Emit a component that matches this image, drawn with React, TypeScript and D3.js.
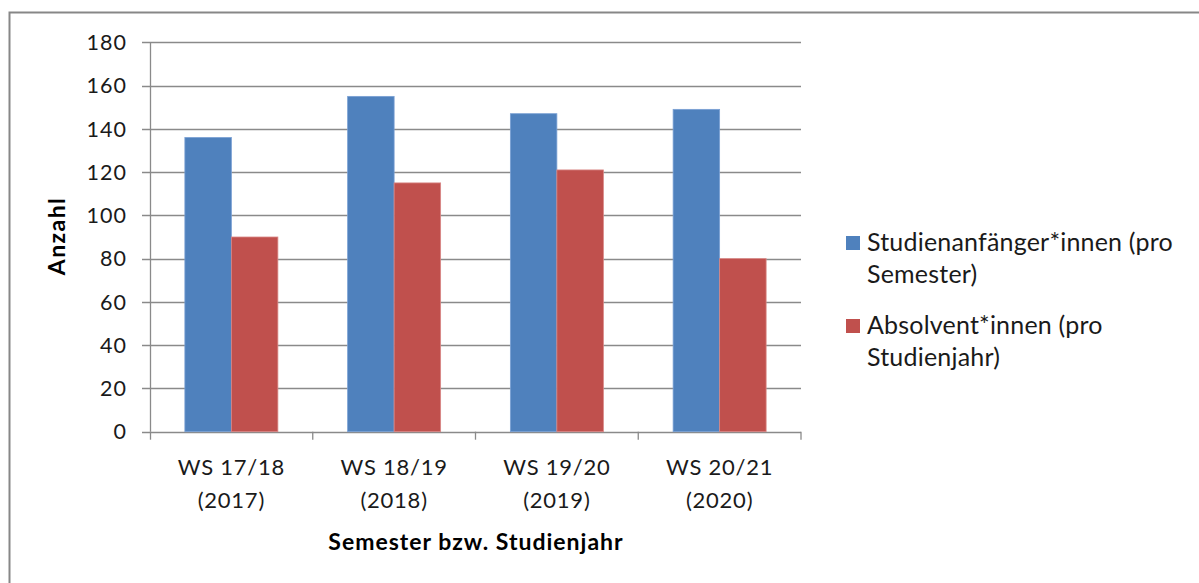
import React from "react";
import * as d3 from "d3";

const categories = ["WS 17/18|(2017)", "WS 18/19|(2018)", "WS 19/20|(2019)", "WS 20/21|(2020)"];
const seriesNames = ["Studienanfänger*innen (pro|Semester)", "Absolvent*innen (pro|Studienjahr)"];
const starters = [136, 155, 147, 149];
const graduates = [90, 115, 121, 80];
const yTicks = [0, 20, 40, 60, 80, 100, 120, 140, 160, 180];
const colors = ["#4F81BD", "#C0504D"];
const yAxisTitle = "Anzahl";
const xAxisTitle = "Semester bzw. Studienjahr";

const W = 1199;
const H = 583;
const FONT = "Lato, 'Open Sans', sans-serif";

export default function App() {
  const left = 150, right = 801, top = 42.3, bottom = 431.7;
  const y = d3.scaleLinear().domain([0, 180]).range([bottom, top]);
  const x = d3.scaleBand().domain(categories).range([left, right]).paddingInner(0).paddingOuter(0);
  const bw = x.bandwidth() / 3.5;
  const series = [starters, graduates];

  return (
    <svg width={W} height={H} style={{ position: "absolute", left: 0, top: 0, background: "#fff" }} fontFamily={FONT}>
      <rect x={0} y={0} width={W} height={H} fill="#fff" />
      <rect x={9.5} y={12.5} width={W + 20} height={H + 20} fill="none" stroke="#878787" strokeWidth={2} />
      {yTicks.map((t) => (
        <g key={t}>
          <line x1={left - 8} x2={right} y1={Math.round(y(t)) + 0.5} y2={Math.round(y(t)) + 0.5} stroke="#8a8a8a" strokeWidth={1.3} />
          <text x={127} y={y(t)} dy="0.36em" textAnchor="end" fontSize={21.5} letterSpacing={1} fill="#1a1a1a">{t}</text>
        </g>
      ))}
      <line x1={left + 0.5} x2={left + 0.5} y1={top} y2={bottom} stroke="#8a8a8a" strokeWidth={1.3} />
      {categories.map((c, i) => (
        <line key={"t" + i} x1={x(c)! + x.bandwidth()} x2={x(c)! + x.bandwidth()} y1={bottom} y2={bottom + 8} stroke="#8a8a8a" strokeWidth={1.3} />
      ))}
      <line x1={left + 0.5} x2={left + 0.5} y1={bottom} y2={bottom + 8} stroke="#8a8a8a" strokeWidth={1.3} />
      {series.map((vals, si) =>
        vals.map((v, i) => {
          const cx = x(categories[i])! + x.bandwidth() * 0.75 / 3.5 + si * bw;
          return (
            <rect key={si + "-" + i} x={cx} y={y(v)} width={bw} height={bottom - y(v)} fill={colors[si]} stroke={si === 0 ? "#7aa0d4" : "#d98785"} strokeWidth={0.8} />
          );
        })
      )}
      {categories.map((c, i) => {
        const [a, b] = c.split("|");
        const cx = x(c)! + x.bandwidth() / 2;
        return (
          <g key={"l" + i}>
            <text x={cx} y={475} textAnchor="middle" fontSize={22} letterSpacing={0.75} fill="#1a1a1a">{a}</text>
            <text x={cx} y={508} textAnchor="middle" fontSize={22} letterSpacing={0.75} fill="#1a1a1a">{b}</text>
          </g>
        );
      })}
      <text x={476} y={550} textAnchor="middle" fontSize={23} letterSpacing={1} fontWeight="bold" fill="#000">{xAxisTitle}</text>
      <text transform={`translate(65,236) rotate(-90)`} textAnchor="middle" fontSize={23} letterSpacing={1.4} fontWeight="bold" fill="#000">{yAxisTitle}</text>
      {seriesNames.map((n, i) => {
        const [a, b] = n.split("|");
        const base = 251 + i * 83;
        return (
          <g key={"lg" + i}>
            <rect x={846} y={base - 15} width={14} height={14} fill={colors[i]} />
            <text x={867} y={base} fontSize={25} letterSpacing={0.2} fill="#1a1a1a">{a}</text>
            <text x={867} y={base + 32} fontSize={25} letterSpacing={0.2} fill="#1a1a1a">{b}</text>
          </g>
        );
      })}
    </svg>
  );
}
